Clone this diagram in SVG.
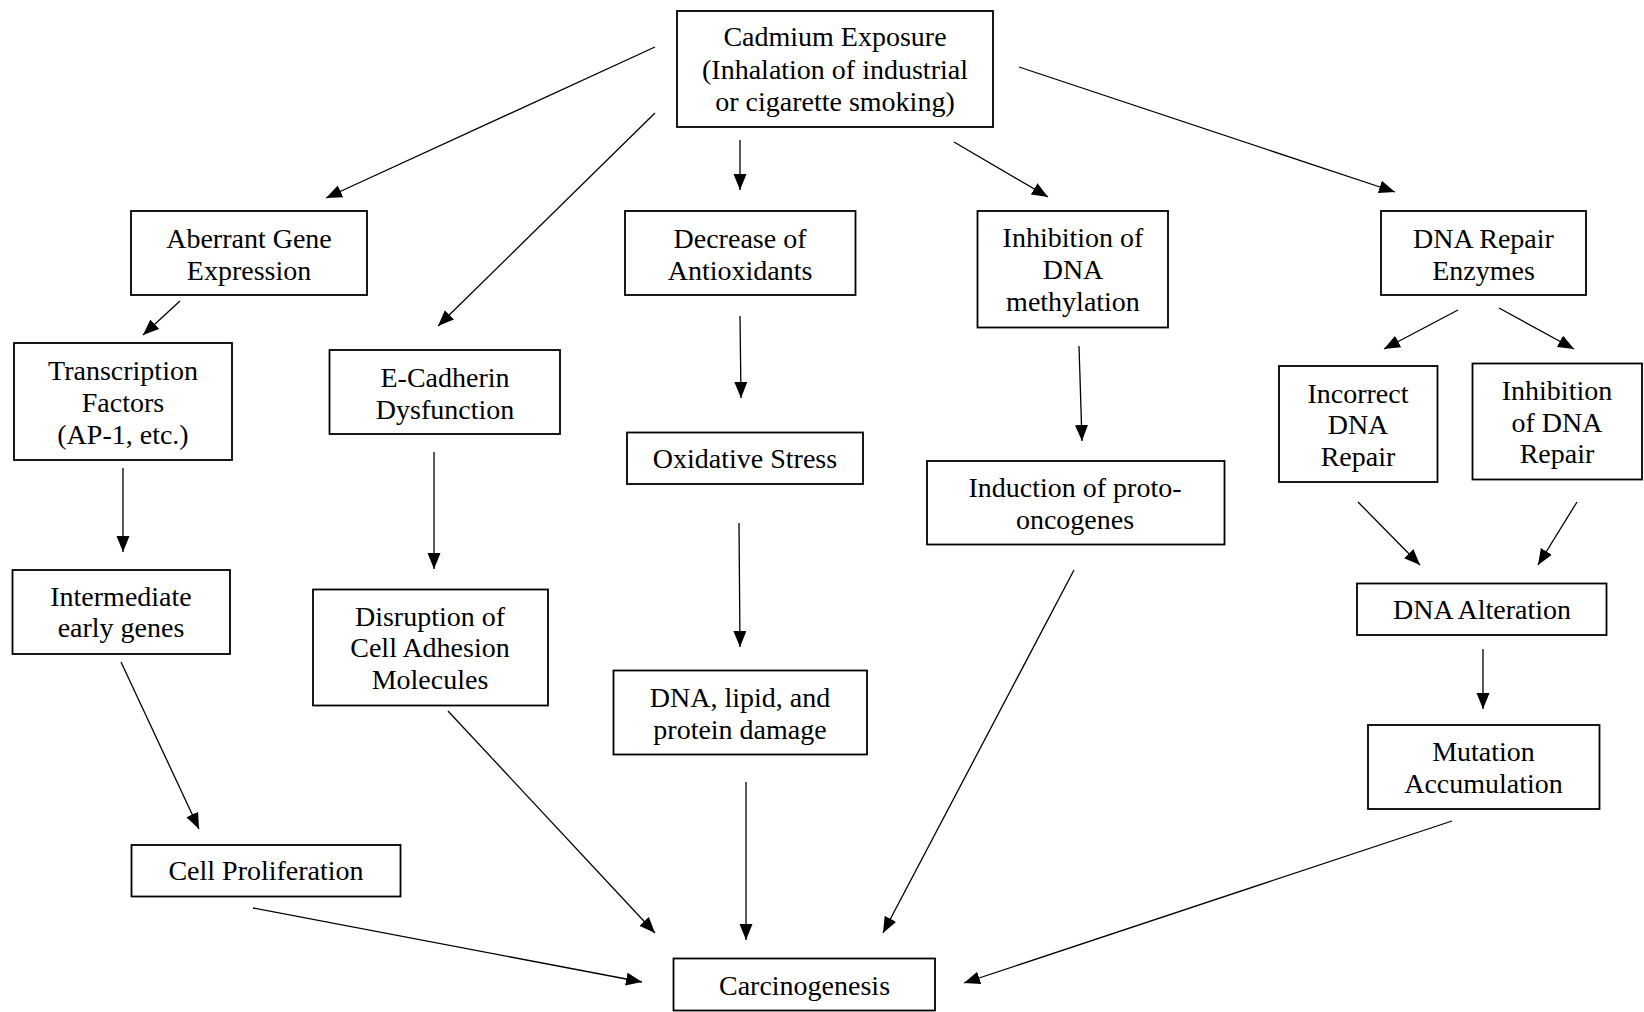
<svg xmlns="http://www.w3.org/2000/svg" width="1644" height="1012" viewBox="0 0 1644 1012">
<defs>
<marker id="ah" markerUnits="userSpaceOnUse" markerWidth="16" markerHeight="14" refX="16" refY="6.5" orient="auto">
<path d="M0,0 L16,6.5 L0,13 z" fill="#000"/>
</marker>
<style>
rect{fill:#fff;stroke:#000;stroke-width:1.8}
text{font-family:"Liberation Serif","Times New Roman",serif;font-size:28px;fill:#000;text-anchor:middle}
.c line{stroke:#000;stroke-width:1.3;marker-end:url(#ah)}
</style>
</defs>
<rect x="0" y="0" width="1644" height="1012" style="fill:#fff;stroke:none"/>
<g class="c" id="connectors">
<line x1="655" y1="47" x2="326" y2="198"/>
<line x1="655" y1="113" x2="438" y2="326"/>
<line x1="740" y1="140" x2="740" y2="190"/>
<line x1="954" y1="142" x2="1048" y2="197"/>
<line x1="1019" y1="67" x2="1395" y2="192"/>
<line x1="180" y1="301" x2="143" y2="335"/>
<line x1="123" y1="468" x2="123" y2="552"/>
<line x1="434" y1="452" x2="434" y2="569"/>
<line x1="740" y1="316" x2="741" y2="398"/>
<line x1="739" y1="523" x2="740" y2="647"/>
<line x1="1079" y1="346" x2="1082" y2="441"/>
<line x1="1458" y1="310" x2="1384" y2="349"/>
<line x1="1499" y1="308" x2="1574" y2="349"/>
<line x1="1358" y1="502" x2="1420" y2="565"/>
<line x1="1577" y1="502" x2="1538" y2="565"/>
<line x1="1483" y1="649" x2="1483" y2="709"/>
<line x1="1452" y1="821" x2="964" y2="983"/>
<line x1="1074" y1="570" x2="883" y2="933"/>
<line x1="746" y1="782" x2="746" y2="940"/>
<line x1="448" y1="711" x2="655" y2="933"/>
<line x1="253" y1="908" x2="642" y2="982"/>
<line x1="121" y1="662" x2="199" y2="829"/>
</g>
<g id="cadmium"><rect x="677" y="11" width="316" height="116"/><text x="835" y="46">Cadmium Exposure</text><text x="835" y="78.5">(Inhalation of industrial</text><text x="835" y="111">or cigarette smoking)</text></g>
<g id="aberrant"><rect x="131" y="211" width="236" height="84"/><text x="249" y="248">Aberrant Gene</text><text x="249" y="280">Expression</text></g>
<g id="transcription"><rect x="14" y="343" width="218" height="117"/><text x="123" y="380">Transcription</text><text x="123" y="412">Factors</text><text x="123" y="443.5">(AP-1, etc.)</text></g>
<g id="ecadherin"><rect x="329.5" y="350" width="230.5" height="84"/><text x="445" y="387">E-Cadherin</text><text x="445" y="418.5">Dysfunction</text></g>
<g id="antioxidants"><rect x="625" y="211" width="230.5" height="84"/><text x="740" y="248">Decrease of</text><text x="740" y="280">Antioxidants</text></g>
<g id="oxidative"><rect x="627" y="432.5" width="236" height="51.5"/><text x="745" y="467.5">Oxidative Stress</text></g>
<g id="damage"><rect x="613.5" y="670.5" width="253.5" height="84"/><text x="740" y="707">DNA, lipid, and</text><text x="740" y="739">protein damage</text></g>
<g id="methylation"><rect x="977.5" y="211" width="190.5" height="116.5"/><text x="1073" y="247">Inhibition of</text><text x="1073" y="278.5">DNA</text><text x="1073" y="310.5">methylation</text></g>
<g id="protooncogenes"><rect x="927" y="461" width="297.5" height="83.5"/><text x="1075" y="497">Induction of proto-</text><text x="1075" y="528.5">oncogenes</text></g>
<g id="repairenzymes"><rect x="1381" y="211" width="205" height="84"/><text x="1483.5" y="248">DNA Repair</text><text x="1483.5" y="280">Enzymes</text></g>
<g id="incorrect"><rect x="1279" y="366" width="158.5" height="116"/><text x="1358" y="402.5">Incorrect</text><text x="1358" y="434">DNA</text><text x="1358" y="465.5">Repair</text></g>
<g id="inhibitionrepair"><rect x="1472.5" y="363.5" width="169.5" height="116"/><text x="1557" y="400">Inhibition</text><text x="1557" y="431.5">of DNA</text><text x="1557" y="463">Repair</text></g>
<g id="intermediate"><rect x="12.5" y="570" width="217.5" height="84"/><text x="121" y="605.5">Intermediate</text><text x="121" y="637">early genes</text></g>
<g id="disruption"><rect x="313" y="589.5" width="235" height="116"/><text x="430" y="625.5">Disruption of</text><text x="430" y="657">Cell Adhesion</text><text x="430" y="689">Molecules</text></g>
<g id="proliferation"><rect x="131.5" y="845" width="269" height="51.5"/><text x="266" y="880">Cell Proliferation</text></g>
<g id="carcinogenesis"><rect x="673.5" y="958.5" width="261.5" height="52"/><text x="804.5" y="995">Carcinogenesis</text></g>
<g id="alteration"><rect x="1357" y="583.5" width="249.5" height="51.5"/><text x="1482" y="618.5">DNA Alteration</text></g>
<g id="mutation"><rect x="1368" y="725" width="231.5" height="84"/><text x="1483.5" y="761">Mutation</text><text x="1483.5" y="792.5">Accumulation</text></g>
</svg>
